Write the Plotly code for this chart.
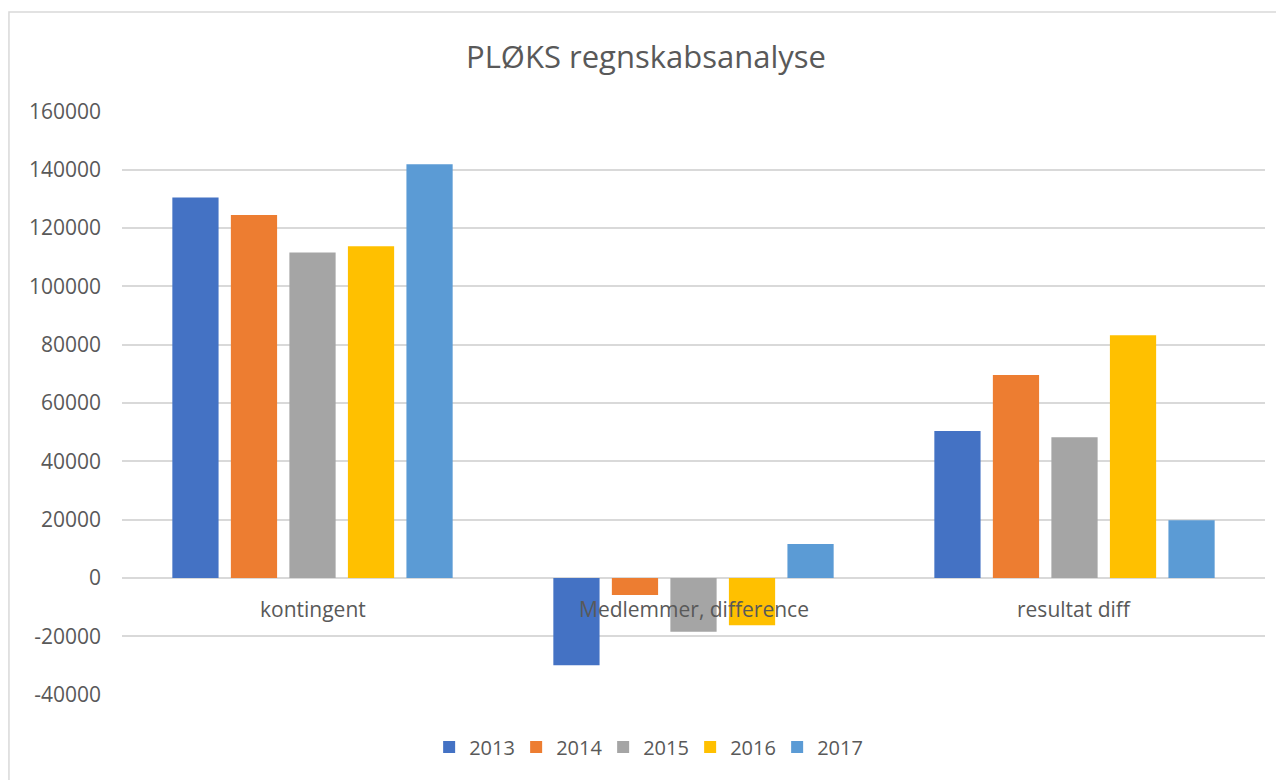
import plotly.graph_objects as go

categories = ["kontingent", "Medlemmer, difference", "resultat diff"]
years = ["2013", "2014", "2015", "2016", "2017"]
values_2013 = [130400, -29900, 50400]
values_2014 = [124400, -5800, 69600]
values_2015 = [111600, -18400, 48300]
values_2016 = [113700, -16200, 83200]
values_2017 = [141800, 11700, 19800]
series_values = [values_2013, values_2014, values_2015, values_2016, values_2017]
tick_values = [-40000, -20000, 0, 20000, 40000, 60000, 80000, 100000, 120000, 140000, 160000]
tick_labels = ["-40000", "-20000", "0", "20000", "40000", "60000", "80000", "100000", "120000", "140000", "160000"]
colors = ["#4472C4", "#ED7D31", "#A5A5A5", "#FFC000", "#5B9BD5"]

FONT = "Open Sans"
TXT = "#595959"

fig = go.Figure()
for yr, vals, col in zip(years, series_values, colors):
    fig.add_trace(go.Bar(name=yr, x=categories, y=vals, marker=dict(color=col, line=dict(width=0))))

for c in categories:
    fig.add_annotation(x=c, y=0, xref="x", yref="y", text=c, showarrow=False,
                       yanchor="top", yshift=-15, font=dict(family=FONT, size=21, color=TXT))

fig.update_layout(
    width=1276, height=772,
    paper_bgcolor="white", plot_bgcolor="white",
    margin=dict(l=114, r=19, t=103, b=85),
    barmode="group", bargap=0.232, bargroupgap=0.21,
    title=dict(text="PLØKS regnskabsanalyse", x=0.5, xanchor="center", y=0.9365, yanchor="middle",
               font=dict(family=FONT, size=31, color=TXT)),
    font=dict(family=FONT, size=21, color=TXT),
    legend=dict(orientation="h", x=0.459, xanchor="center", y=-0.089, yanchor="middle",
                font=dict(family=FONT, size=20, color=TXT), entrywidth=42, traceorder="normal"),
    xaxis=dict(showticklabels=False, showgrid=False, zeroline=False, showline=False, ticks=""),
    yaxis=dict(range=[-40060, 160060], tickvals=tick_values, ticktext=tick_labels, showgrid=True,
               gridcolor="#D9D9D9", gridwidth=1.5, zeroline=True, zerolinecolor="#D9D9D9",
               zerolinewidth=1.5, showline=False, ticks="", ticklabelstandoff=20,
               tickfont=dict(family=FONT, size=21, color=TXT)),
    shapes=[dict(type="rect", xref="paper", yref="paper", x0=-0.0989, x1=1.1, y0=-0.3, y1=1.1695,
                 line=dict(color="#D9D9D9", width=1.5), fillcolor="rgba(0,0,0,0)", layer="below")],
)

fig.write_html("out.html")
